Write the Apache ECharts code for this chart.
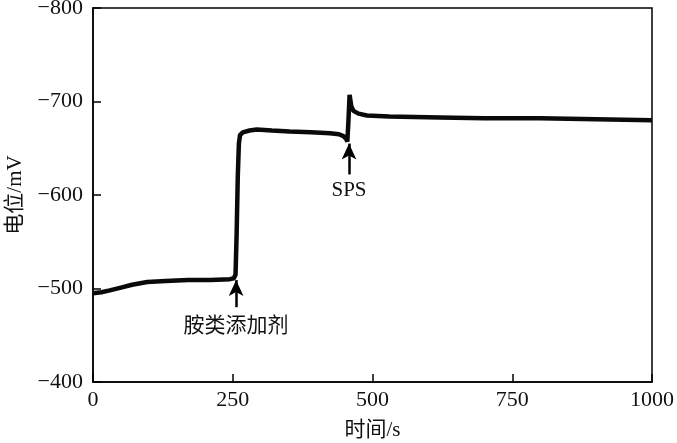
<!DOCTYPE html>
<html><head><meta charset="utf-8">
<script src="https://cdn.jsdelivr.net/npm/echarts@6/dist/echarts.min.js"></script>
<style>html,body{margin:0;padding:0;background:#fff}#c{width:677px;height:443px}</style>
</head><body><div id="c"></div>
<script>
const timeS = [0, 15, 30, 50, 70, 97, 130, 170, 210, 245, 252, 255, 257, 259, 261, 263, 268, 280, 293, 320, 352, 390, 424, 440, 448, 453, 455, 457, 459, 462, 466, 475, 490, 530, 620, 700, 800, 900, 1000];
const potential = [-495, -496, -498, -501, -504, -507, -508, -509, -509, -510, -511, -515, -560, -620, -655, -664, -667, -669, -670, -669, -668, -667, -666, -665, -663, -660, -657, -680, -707, -695, -690, -687, -685, -684, -683, -682, -682, -681, -680];
const xTicks = [0, 250, 500, 750, 1000];
const yTicks = [-800, -700, -600, -500, -400];
const annoText = ['胺类添加剂', 'SPS'];
const annoX = [256, 458];
const annoTip = [-509, -655];
const annoTail = [-480, -622];
const annoLabelY = [-459, -605];

const ff = '"Times New Roman", "Liberation Serif", "Noto Sans CJK SC", serif';
const chart = echarts.init(document.getElementById('c'), null, {renderer: 'canvas'});
const minus = v => String(v).replace('-', '\u2212');
chart.setOption({
  animation: false,
  grid: {left: 93, right: 25, top: 8, bottom: 61, show: true, borderColor: '#000', borderWidth: 1.5, containLabel: false, outerBoundsMode: 'none'},
  xAxis: {
    type: 'value', min: xTicks[0], max: xTicks[xTicks.length-1], interval: 250,
    name: '时间/s', nameLocation: 'middle', nameGap: 38,
    nameTextStyle: {fontFamily: ff, fontSize: 21, color: '#111'},
    axisLine: {lineStyle: {color: '#000', width: 1.5}},
    axisTick: {inside: true, length: 8, lineStyle: {color: '#000', width: 1.5}},
    axisLabel: {fontFamily: ff, fontSize: 22, color: '#111', margin: 7, formatter: v => String(v)},
    splitLine: {show: false}
  },
  yAxis: {
    type: 'value', min: yTicks[0], max: yTicks[yTicks.length-1], interval: 100, inverse: true,
    name: '电位/mV', nameLocation: 'middle', nameGap: 67, nameRotate: 90,
    nameTextStyle: {fontFamily: ff, fontSize: 21, color: '#111'},
    axisLine: {lineStyle: {color: '#000', width: 1.5}},
    axisTick: {inside: true, length: 8, lineStyle: {color: '#000', width: 1.5}},
    axisLabel: {fontFamily: ff, fontSize: 22, color: '#111', margin: 10, formatter: minus},
    splitLine: {show: false}
  },
  series: [{
    type: 'line',
    data: timeS.map((t, i) => [t, potential[i]]),
    symbol: 'none',
    lineStyle: {color: '#0a0a0a', width: 4.5},
    markLine: {
      silent: true, symbol: ['none', 'arrow'], symbolSize: [11, 16],
      lineStyle: {color: '#000', width: 2.5, type: 'solid'},
      label: {show: false},
      data: annoX.map((x, i) => [{coord: [x, annoTail[i]]}, {coord: [x, annoTip[i]]}])
    },
    markPoint: {
      silent: true, symbol: 'circle', symbolSize: 0,
      label: {show: true, position: 'inside', color: '#111', fontFamily: ff, fontSize: 21, formatter: p => p.name},
      data: annoX.map((x, i) => ({name: annoText[i], coord: [x, annoLabelY[i]]}))
    }
  }]
});
</script></body></html>
